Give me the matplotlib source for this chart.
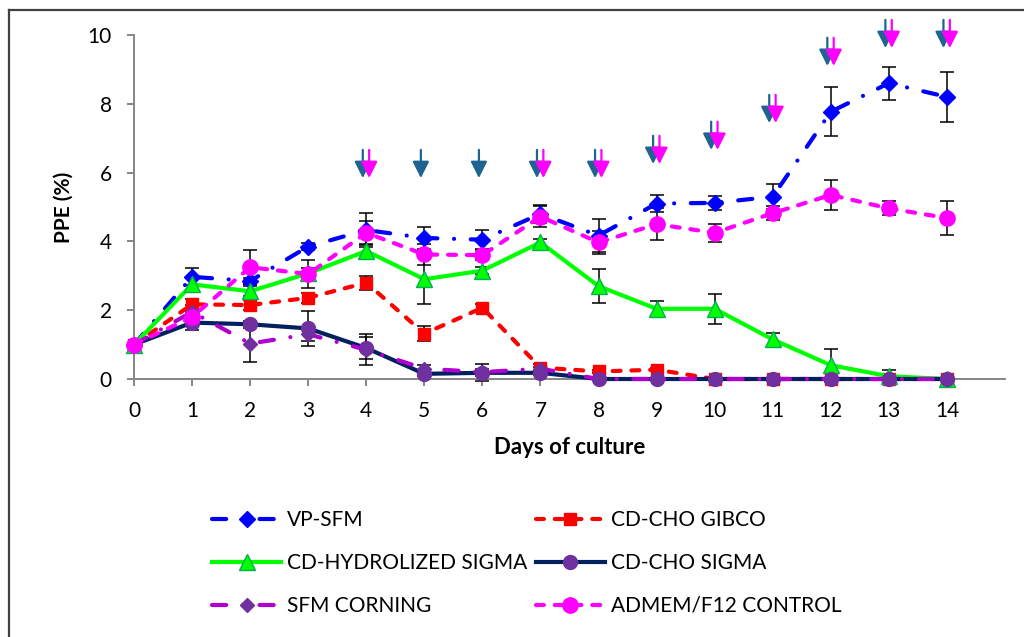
import matplotlib
matplotlib.use("Agg")
import matplotlib.pyplot as plt
from matplotlib.lines import Line2D
import numpy as np

plt.rcParams['font.family'] = ['Lato', 'DejaVu Sans']

# data
days = np.arange(15)

vp_sfm = [1.0, 2.97, 2.85, 3.85, 4.33, 4.10, 4.05, 4.80, 4.17, 5.10, 5.12, 5.30, 7.77, 8.60, 8.20]
vp_sfm_err = [0.05, 0.25, 0.10, 0.10, 0.50, 0.33, 0.27, 0.27, 0.48, 0.24, 0.20, 0.36, 0.71, 0.48, 0.72]

gibco = [1.0, 2.17, 2.15, 2.36, 2.80, 1.32, 2.07, 0.33, 0.22, 0.27, 0.0, 0.0, 0.0, 0.0, 0.0]
gibco_err = [0.05, 0.15, 0.15, 0.15, 0.20, 0.22, 0.10, 0.10, 0.05, 0.05, 0.0, 0.0, 0.0, 0.0, 0.0]

hydro = [1.0, 2.75, 2.55, 3.07, 3.72, 2.90, 3.15, 3.97, 2.70, 2.04, 2.04, 1.15, 0.40, 0.08, 0.0]
hydro_err = [0.05, 0.20, 0.15, 0.15, 0.20, 0.72, 0.10, 0.10, 0.49, 0.22, 0.43, 0.20, 0.48, 0.17, 0.0]

cho_sigma = [1.0, 1.64, 1.59, 1.47, 0.90, 0.15, 0.18, 0.18, 0.0, 0.0, 0.0, 0.0, 0.0, 0.0, 0.0]
cho_sigma_err = [0.05, 0.22, 0.10, 0.50, 0.33, 0.05, 0.25, 0.05, 0.0, 0.0, 0.0, 0.0, 0.0, 0.0, 0.0]

corning = [1.0, 1.95, 1.03, 1.30, 0.85, 0.30, 0.20, 0.30, 0.0, 0.0, 0.0, 0.0, 0.0, 0.0, 0.0]
corning_err = [0.05, 0.20, 0.55, 0.20, 0.45, 0.10, 0.10, 0.05, 0.0, 0.0, 0.0, 0.0, 0.0, 0.0, 0.0]

admem = [1.0, 1.80, 3.25, 3.05, 4.25, 3.62, 3.60, 4.72, 3.97, 4.50, 4.25, 4.82, 5.35, 4.96, 4.68]
admem_err = [0.05, 0.15, 0.50, 0.40, 0.35, 0.30, 0.15, 0.30, 0.33, 0.47, 0.27, 0.20, 0.43, 0.20, 0.50]

# feeding arrows: day -> tip height
teal_days = [4, 5, 6, 7, 8, 9, 10, 11, 12, 13, 14]
teal_tips = [5.84, 5.84, 5.84, 5.84, 5.84, 6.25, 6.66, 7.44, 9.10, 9.62, 9.62]
pink_days = [4, 7, 8, 9, 10, 11, 12, 13, 14]
pink_tips = [5.84, 5.84, 5.84, 6.25, 6.66, 7.44, 9.10, 9.62, 9.62]

fig = plt.figure(figsize=(10.24, 6.37), dpi=100)
ax = fig.add_axes([134 / 1024, 1 - 379 / 637, (1005 - 134) / 1024, (379 - 35) / 637])

dash_dot = (0, (3.4, 4.0, 0.01, 4.0))
dashed = (0, (1.9, 2.6))

series = [
    ('VP-SFM', vp_sfm, vp_sfm_err, dict(color='#0000FF', ls=dash_dot, marker='D', ms=8,
                                        mfc='#0000FF', mec='#0000FF')),
    ('CD-CHO GIBCO', gibco, gibco_err, dict(color='#FF0000', ls=dashed, marker='s', ms=9,
                                            mfc='#FF0000', mec='#FF0000')),
    ('CD-HYDROLIZED SIGMA', hydro, hydro_err, dict(color='#00FF00', ls='-', marker='^', ms=12,
                                                   mfc='#00FF00', mec='#00B050')),
    ('CD-CHO SIGMA', cho_sigma, cho_sigma_err, dict(color='#002060', ls='-', marker='o', ms=10,
                                                    mfc='#7030A0', mec='#7030A0')),
    ('SFM CORNING', corning, corning_err, dict(color='#B000D0', ls=dash_dot, marker='D', ms=7,
                                               mfc='#7030A0', mec='#7030A0')),
    ('ADMEM/F12 CONTROL', admem, admem_err, dict(color='#FF00FF', ls=dashed, marker='o', ms=11,
                                                 mfc='#FF00FF', mec='#FF00FF')),
]

handles = {}
for name, vals, err, st in series:
    ax.errorbar(days, vals, yerr=err, fmt='none', ecolor='black', elinewidth=1.1,
                capsize=5, capthick=1.1, zorder=2, clip_on=False)
    ln, = ax.plot(days, vals, lw=3, dash_capstyle='round', label=name, zorder=3,
                  clip_on=False, **st)
    handles[name] = ln

for d, t in zip(teal_days, teal_tips):
    ax.annotate('', xy=(d - 0.06, t), xytext=(d - 0.06, t + 0.82),
                arrowprops=dict(arrowstyle='-|>,head_length=1.0,head_width=0.5', color='#1F6391',
                                lw=1.6, mutation_scale=10, shrinkA=0, shrinkB=0),
                annotation_clip=False, zorder=4)
for d, t in zip(pink_days, pink_tips):
    ax.annotate('', xy=(d + 0.05, t), xytext=(d + 0.05, t + 0.82),
                arrowprops=dict(arrowstyle='-|>,head_length=1.0,head_width=0.5', color='#FF00FF',
                                lw=1.6, mutation_scale=10, shrinkA=0, shrinkB=0),
                annotation_clip=False, zorder=5)

ax.set_xlim(0, 15)
ax.set_ylim(0, 10)
ax.set_xticks(range(15))
ax.set_yticks(range(0, 11, 2))
for s in ['top', 'right']:
    ax.spines[s].set_visible(False)
for s in ['left', 'bottom']:
    ax.spines[s].set_color('#868686')
    ax.spines[s].set_linewidth(1.4)
ax.tick_params(axis='both', colors='#868686', labelcolor='black', labelsize=15,
               length=5, width=1.4, direction='out')
ax.tick_params(axis='y', pad=11)
ax.tick_params(axis='x', pad=11)

ax.set_xlabel('Days of culture', fontsize=16, fontweight='bold', labelpad=11)
ax.set_ylabel('PPE (%)', fontsize=15, fontweight='bold', labelpad=10)

order = ['VP-SFM', 'CD-HYDROLIZED SIGMA', 'SFM CORNING',
         'CD-CHO GIBCO', 'CD-CHO SIGMA', 'ADMEM/F12 CONTROL']
fig.legend([handles[n] for n in order], order, loc='center', ncol=2,
           bbox_to_anchor=(527 / 1024, 1 - 563 / 637), frameon=False, fontsize=15,
           numpoints=1, handlelength=3.3, handletextpad=0.3, columnspacing=0.4,
           labelspacing=1.1)

# chart-area border (only top and left visible)
fig.add_artist(Line2D([9 / 1024, 9 / 1024], [0, 1 - 9.5 / 637], color='#404040', lw=1.6))
fig.add_artist(Line2D([9 / 1024, 1], [1 - 9.5 / 637, 1 - 9.5 / 637], color='#404040', lw=1.6))

fig.savefig('out.png', dpi=100)
